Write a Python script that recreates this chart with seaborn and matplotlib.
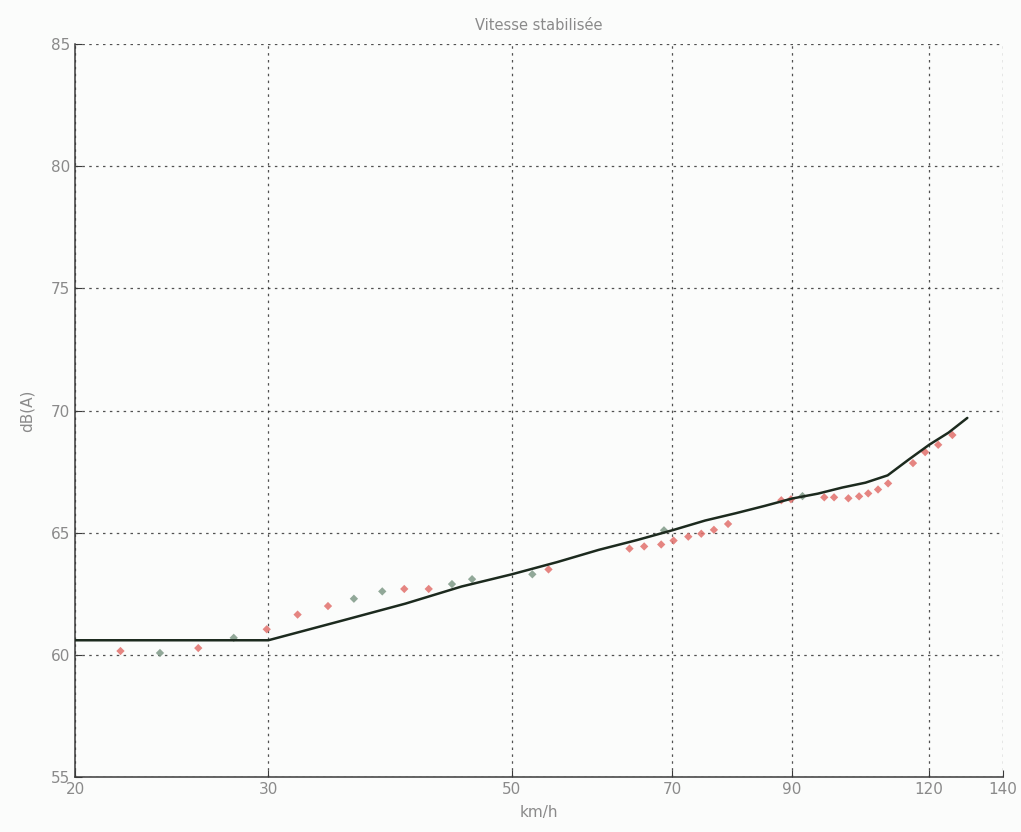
import numpy as np
import pandas as pd
import matplotlib
matplotlib.use("Agg")
import matplotlib.pyplot as plt
from matplotlib.ticker import FixedLocator, FixedFormatter, NullLocator
import seaborn as sns

# Fitted noise level (dB(A)) versus steady speed (km/h)
fit_speed = [20, 30, 35, 40, 45, 50, 55, 60, 65, 70, 75, 80, 85, 90,
             95, 100, 105, 110, 115, 120, 125, 130]
fit_level = [60.6, 60.6, 61.4, 62.1, 62.8, 63.3, 63.8, 64.3, 64.7, 65.1, 65.5,
             65.8, 66.1, 66.4, 66.6, 66.85, 67.05, 67.35, 68.0, 68.6, 69.1, 69.7]

# Measured points, first run
run1_speed = [22.0, 25.9, 29.9, 31.9, 34.0, 39.9, 42.0, 54.0, 64.0, 66.0, 68.4,
              70.2, 72.4, 74.4, 76.4, 78.7, 88.0, 89.8, 96.3, 98.3, 101.3,
              103.6, 105.6, 107.8, 110.1, 116.0, 119.0, 122.3, 126.0]
run1_level = [60.16, 60.28, 61.05, 61.65, 62.0, 62.7, 62.7, 63.5, 64.35, 64.44,
              64.52, 64.68, 64.84, 64.96, 65.12, 65.36, 66.33, 66.37, 66.45,
              66.45, 66.41, 66.49, 66.61, 66.77, 67.02, 67.85, 68.3, 68.6, 69.0]

# Measured points, second run
run2_speed = [23.9, 27.9, 35.9, 38.1, 44.1, 46.0, 52.2, 68.8, 92.0]
run2_level = [60.08, 60.7, 62.3, 62.6, 62.9, 63.1, 63.3, 65.1, 66.5]

xticks = [20, 30, 50, 70, 90, 120, 140]
yticks = [55, 60, 65, 70, 75, 80, 85]

fit = pd.DataFrame({"speed": fit_speed, "level": fit_level})
r1 = pd.DataFrame({"speed": run1_speed, "level": run1_level})
r2 = pd.DataFrame({"speed": run2_speed, "level": run2_level})

sns.set_style("ticks")
plt.rcParams["font.family"] = ["DejaVu Sans"]

fig = plt.figure(figsize=(10.21, 8.32), dpi=100, facecolor="#fbfcfb")
ax = fig.add_axes([0.0735, 0.066, 0.9085, 0.881])
ax.set_facecolor("#fbfcfb")

sns.scatterplot(data=r1, x="speed", y="level", ax=ax, marker="D", s=18,
                color="#e2706c", edgecolor="none", alpha=0.85, zorder=3)
sns.scatterplot(data=r2, x="speed", y="level", ax=ax, marker="D", s=18,
                color="#7f9987", edgecolor="none", alpha=0.85, zorder=3)
sns.lineplot(data=fit, x="speed", y="level", ax=ax, color="#1c2a1e",
             linewidth=1.8, zorder=4)

ax.set_xscale("log")
ax.set_xlim(20, 140)
ax.set_ylim(55, 85)
ax.xaxis.set_major_locator(FixedLocator(xticks))
ax.xaxis.set_major_formatter(FixedFormatter([str(t) for t in xticks]))
ax.xaxis.set_minor_locator(NullLocator())
ax.set_yticks(yticks)
ax.set_yticklabels([str(t) for t in yticks])

ax.grid(True, which="major", linestyle=(0, (2, 3.5)), color="#333333",
        linewidth=0.9, alpha=0.85)
sns.despine(ax=ax, top=True, right=True)
for s in ("left", "bottom"):
    ax.spines[s].set_color("#3a3a3a")
    ax.spines[s].set_linewidth(1.1)

ax.tick_params(direction="in", length=5, colors="#3a3a3a",
               labelcolor="#8a8a8a", labelsize=11)
ax.set_xlabel("km/h", color="#8a8a8a", fontsize=11, labelpad=6)
ax.set_ylabel("dB(A)", color="#8a8a8a", fontsize=11, labelpad=12)
ax.set_title("Vitesse stabilisée", color="#8a8a8a", fontsize=10.5, pad=10)

fig.savefig("out.png", dpi=100, facecolor=fig.get_facecolor())
